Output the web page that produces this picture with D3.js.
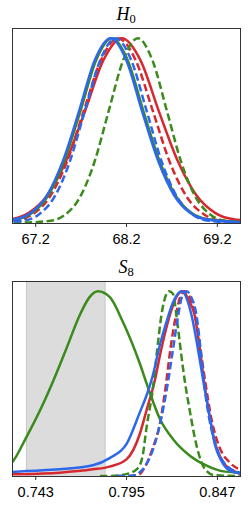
<!DOCTYPE html>
<html>
<head>
<meta charset="utf-8">
<script src="https://cdn.jsdelivr.net/npm/d3@7"></script>
<style>
  body { margin: 0; background: #fff; }
  svg { display: block; }
</style>
</head>
<body>
<div id="chart"></div>
<script>
"use strict";

///////////////////////////////////
// data: [value, normalised density]
///////////////////////////////////

const h0Ticks = [67.2, 68.2, 69.2];
const h0Domain = [66.945, 69.455];

const h0BlueSolid = [[66.63,0.005],[66.98,0.02],[67.155,0.055],[67.33,0.15],[67.505,0.335],[67.68,0.6],[67.855,0.88],[68.03,1],[68.205,0.88],[68.38,0.6],[68.555,0.335],[68.73,0.15],[68.905,0.055],[69.08,0.02],[69.43,0.005],[69.8,0.001]];
const h0GreenSolid = [[66.645,0.005],[66.995,0.02],[67.17,0.055],[67.345,0.15],[67.52,0.335],[67.695,0.6],[67.87,0.88],[68.045,1],[68.22,0.88],[68.395,0.6],[68.57,0.335],[68.745,0.15],[68.92,0.055],[69.095,0.02],[69.445,0.005],[69.8,0.001]];
const h0RedSolid = [[66.515,0.005],[66.925,0.02],[67.13,0.055],[67.335,0.15],[67.54,0.335],[67.745,0.6],[67.95,0.88],[68.155,1],[68.36,0.88],[68.565,0.6],[68.77,0.335],[68.975,0.15],[69.18,0.055],[69.385,0.02],[69.795,0.005]];
const h0BlueDashed = [[66.727,0.002],[67.067,0.012],[67.237,0.045],[67.407,0.137],[67.577,0.326],[67.747,0.607],[67.917,0.882],[68.087,1],[68.257,0.882],[68.427,0.607],[68.597,0.326],[68.767,0.137],[68.937,0.045],[69.107,0.012],[69.447,0.002],[69.8,0]];
const h0RedDashed = [[66.595,0.002],[66.975,0.012],[67.165,0.045],[67.355,0.137],[67.545,0.326],[67.735,0.607],[67.925,0.882],[68.115,1],[68.305,0.882],[68.495,0.607],[68.685,0.326],[68.875,0.137],[69.065,0.045],[69.255,0.012],[69.635,0.002]];
const h0GreenDashed = [[66.6,0],[67.05,0.002],[67.37,0.012],[67.53,0.045],[67.69,0.137],[67.85,0.326],[68.01,0.607],[68.17,0.882],[68.33,1],[68.49,0.882],[68.65,0.607],[68.81,0.326],[68.97,0.137],[69.13,0.045],[69.29,0.012],[69.61,0.002]];

const s8Ticks = [0.743, 0.795, 0.847];
const s8Domain = [0.7297, 0.8602];
const s8Band = [0.738, 0.783];

const s8GreenSolid = [[0.725,0.05],[0.7297,0.074],[0.7378,0.208],[0.7474,0.388],[0.7531,0.51],[0.7608,0.689],[0.7684,0.869],[0.7741,0.968],[0.7789,1],[0.7857,0.968],[0.7932,0.833],[0.8028,0.61],[0.8075,0.48],[0.8143,0.31],[0.8219,0.199],[0.8315,0.11],[0.8411,0.056],[0.8506,0.025],[0.8601,0.018],[0.865,0.015]];
const s8BlueSolid = [[0.725,0.02],[0.7297,0.022],[0.7378,0.027],[0.7569,0.036],[0.776,0.058],[0.7856,0.097],[0.7952,0.172],[0.8028,0.343],[0.8076,0.46],[0.8104,0.548],[0.8143,0.708],[0.8181,0.833],[0.8219,0.94],[0.8267,1],[0.8325,0.869],[0.8361,0.689],[0.8391,0.52],[0.843,0.316],[0.8458,0.172],[0.8495,0.083],[0.8544,0.029],[0.8601,0.015],[0.865,0.01]];
const s8RedSolid = [[0.725,0.008],[0.7297,0.009],[0.7569,0.018],[0.776,0.036],[0.7856,0.051],[0.7952,0.09],[0.8028,0.226],[0.8066,0.352],[0.8115,0.52],[0.8152,0.689],[0.82,0.869],[0.824,0.973],[0.8276,1],[0.8309,0.95],[0.8343,0.869],[0.8372,0.689],[0.8395,0.52],[0.8429,0.316],[0.8461,0.172],[0.8506,0.074],[0.8563,0.029],[0.8601,0.013],[0.865,0.008]];
const s8BlueDashed = [[0.79,0],[0.795,0],[0.8,0.004],[0.8028,0.02],[0.8067,0.065],[0.8114,0.172],[0.8152,0.316],[0.819,0.51],[0.8219,0.689],[0.8248,0.869],[0.827,0.97],[0.8296,1],[0.8322,0.97],[0.8353,0.869],[0.8376,0.689],[0.8395,0.51],[0.8425,0.316],[0.8468,0.155],[0.8525,0.056],[0.8601,0.018],[0.865,0.01]];
const s8RedDashed = [[0.79,0],[0.797,0],[0.8028,0.011],[0.8057,0.047],[0.8104,0.155],[0.8143,0.28],[0.8176,0.48],[0.8204,0.689],[0.8235,0.869],[0.826,0.97],[0.8286,1],[0.8314,0.97],[0.8345,0.869],[0.8375,0.689],[0.8403,0.51],[0.8437,0.316],[0.8485,0.155],[0.8544,0.072],[0.8601,0.036],[0.865,0.025]];
const s8GreenDashed = [[0.78,0],[0.785,0],[0.795,0.01],[0.8015,0.04],[0.8045,0.11],[0.8067,0.262],[0.8104,0.478],[0.8133,0.725],[0.8152,0.869],[0.8181,0.985],[0.8195,1],[0.8219,0.985],[0.8238,0.869],[0.8257,0.725],[0.8276,0.582],[0.8286,0.514],[0.8315,0.352],[0.8343,0.208],[0.8372,0.1],[0.8401,0.038],[0.8458,0.004],[0.8601,0]];

const blue = "#2d68ec";
const red = "#d7282f";
const green = "#3a8a1c";

const width = 249;
const height = 509;

const svg = d3
  .select("#chart")
  .append("svg")
  .attr("width", width)
  .attr("height", height);

///////////////////////////////////
// one panel: band, curves, frame, axis, title
///////////////////////////////////

const plotPanel = (opts) => {
  const x = d3.scaleLinear().domain(opts.domain).range([12, 240]);
  const y = d3.scaleLinear().domain([0, 1.05]).range([opts.bottom, opts.top]);

  const g = svg.append("g");

  g.append("clipPath")
    .attr("id", opts.id + "-clip")
    .append("rect")
    .attr("x", 12)
    .attr("y", opts.top)
    .attr("width", 228)
    .attr("height", opts.bottom - opts.top);

  const plot = g.append("g").attr("clip-path", `url(#${opts.id}-clip)`);

  if (opts.band) {
    plot
      .append("rect")
      .attr("x", x(opts.band[0]))
      .attr("y", opts.top - 1)
      .attr("width", x(opts.band[1]) - x(opts.band[0]))
      .attr("height", opts.bottom - opts.top + 2)
      .attr("fill", "#dcdcdc")
      .attr("stroke", "#c8c8c8")
      .attr("stroke-width", 1);
  }

  const line = d3
    .line()
    .x((d) => x(d[0]))
    .y((d) => y(d[1]))
    .curve(d3.curveMonotoneX);

  plot
    .selectAll("path.curve")
    .data(opts.curves)
    .enter()
    .append("path")
    .attr("class", "curve")
    .attr("d", (c) => line(c.data))
    .attr("fill", "none")
    .attr("stroke", (c) => c.color)
    .attr("stroke-width", 2.5)
    .attr("stroke-dasharray", (c) => (c.dashed ? "7.5,3.5" : null));

  // frame
  g.append("rect")
    .attr("x", 12.5)
    .attr("y", opts.top - 0.5)
    .attr("width", 228)
    .attr("height", opts.bottom - opts.top + 1)
    .attr("fill", "none")
    .attr("stroke", "#333")
    .attr("stroke-width", 1);

  const axis = g
    .append("g")
    .attr("transform", `translate(0,${opts.bottom})`)
    .call(
      d3
        .axisBottom(x)
        .tickValues(opts.ticks)
        .tickSize(4)
        .tickSizeOuter(0)
        .tickFormat(d3.format(opts.fmt))
    );
  axis.select(".domain").remove();
  axis.selectAll(".tick line").attr("stroke", "#333");
  axis
    .selectAll(".tick text")
    .attr("y", 10.5)
    .attr("fill", "#000")
    .style("font-family", "'Liberation Sans', Arial, sans-serif")
    .style("font-size", "14.5px");

  const title = g
    .append("text")
    .attr("x", 126)
    .attr("y", opts.titleY)
    .attr("text-anchor", "middle")
    .style("font-family", "'Liberation Serif', 'DejaVu Serif', serif")
    .style("font-size", "18px");
  title.append("tspan").style("font-style", "italic").text(opts.title[0]);
  title
    .append("tspan")
    .attr("dy", 3.5)
    .style("font-size", "12.5px")
    .text(opts.title[1]);
};

plotPanel({
  id: "h0",
  domain: h0Domain,
  ticks: h0Ticks,
  fmt: ".1f",
  top: 29,
  bottom: 223,
  titleY: 19.5,
  title: ["H", "0"],
  curves: [
    { data: h0RedSolid, color: red },
    { data: h0RedDashed, color: red, dashed: true },
    { data: h0GreenSolid, color: green },
    { data: h0GreenDashed, color: green, dashed: true },
    { data: h0BlueSolid, color: blue },
    { data: h0BlueDashed, color: blue, dashed: true },
  ],
});

plotPanel({
  id: "s8",
  domain: s8Domain,
  ticks: s8Ticks,
  fmt: ".3f",
  top: 282,
  bottom: 476,
  titleY: 272.5,
  title: ["S", "8"],
  band: s8Band,
  curves: [
    { data: s8RedSolid, color: red },
    { data: s8RedDashed, color: red, dashed: true },
    { data: s8GreenSolid, color: green },
    { data: s8GreenDashed, color: green, dashed: true },
    { data: s8BlueSolid, color: blue },
    { data: s8BlueDashed, color: blue, dashed: true },
  ],
});
</script>
</body>
</html>
